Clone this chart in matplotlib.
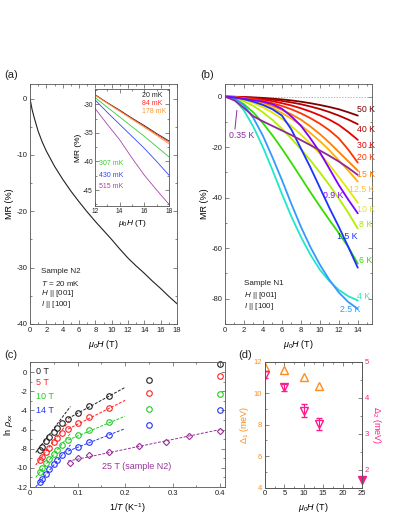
import numpy as np
import matplotlib
matplotlib.use('Agg')
import matplotlib.pyplot as plt
from matplotlib.ticker import MultipleLocator

plt.rcParams['font.family'] = ['Liberation Sans', 'DejaVu Sans']
plt.rcParams['mathtext.fontset'] = 'custom'
plt.rcParams['mathtext.rm'] = 'Liberation Sans'
plt.rcParams['mathtext.it'] = 'Liberation Sans:italic'
plt.rcParams['mathtext.bf'] = 'Liberation Sans:bold'
plt.rcParams['axes.linewidth'] = 0.6
plt.rcParams['axes.edgecolor'] = '#555555'
plt.rcParams['axes.unicode_minus'] = False

# ---------------- data: panel (a) ----------------
a_field = [0, 0.25, 0.5, 1, 1.5, 2, 3, 4, 5, 6, 7, 8, 9, 10, 11, 12, 13, 14, 15, 16, 17, 18]
a_mr = [0, -1.9, -3.3, -5.8, -7.7, -9.3, -12.0, -14.3, -16.4, -18.3, -20.1, -21.8, -23.4,
        -25.0, -26.7, -28.3, -29.7, -31.0, -32.4, -33.7, -35.1, -36.4]

# inset of (a)
inset_field = [12, 13, 14, 15, 16, 17, 18]
inset_labels = ['20 mK', '84 mK', '178 mK', '307 mK', '430 mK', '515 mK']
mr_20mK = [-28.3, -29.7, -31.0, -32.4, -33.7, -35.1, -36.4]
mr_84mK = [-28.3, -29.75, -31.1, -32.5, -33.85, -35.25, -36.6]
mr_178mK = [-28.4, -29.8, -31.2, -32.6, -34.0, -35.45, -36.9]
mr_307mK = [-28.8, -30.5, -32.2, -33.9, -35.6, -37.4, -39.2]
mr_430mK = [-29.2, -31.4, -33.5, -35.6, -37.7, -40.0, -42.4]
mr_515mK = [-30.7, -33.5, -36.2, -39.4, -42.4, -45.0, -47.5]

# ---------------- data: panel (b) ----------------
b_field = list(range(15))
b_labels = ['50 K', '40 K', '30 K', '20 K', '15 K', '12.5 K', '10 K', '8 K', '6 K',
            '4 K', '2.5 K', '1.5 K', '0.9 K', '0.35 K']
mr_50K = [0, -0.05, -0.15, -0.3, -0.5, -0.8, -1.1, -1.5, -2.0, -2.6, -3.3, -4.1, -5.0, -6.2, -7.5]
mr_40K = [0, -0.08, -0.25, -0.5, -0.8, -1.2, -1.7, -2.3, -3.0, -3.9, -4.9, -6.1, -7.5, -9.1, -10.9]
mr_30K = [0, -0.1, -0.35, -0.7, -1.2, -1.8, -2.6, -3.5, -4.6, -5.9, -7.4, -9.1, -11.2, -14.0, -17.1]
mr_20K = [0, -0.15, -0.5, -1.0, -1.7, -2.6, -3.7, -5.0, -6.6, -8.5, -10.7, -13.3, -16.5, -21.0, -26.1]
mr_15K = [0, -0.2, -0.7, -1.4, -2.4, -3.7, -5.2, -7.0, -9.1, -11.8, -14.8, -18.2, -21.9, -25.6, -29.3]
mr_12p5K = [0, -0.25, -0.85, -1.8, -3.0, -4.6, -6.5, -8.7, -11.3, -14.4, -17.6, -21.2, -25.2, -29.3, -33.6]
mr_10K = [0, -0.35, -1.2, -2.5, -4.2, -6.3, -8.8, -11.7, -15.0, -18.6, -22.6, -27.0, -31.8, -36.8, -42.0]
mr_8K = [0, -0.5, -1.8, -3.7, -6.2, -9.2, -12.7, -16.6, -20.8, -25.2, -30.0, -35.0, -40.3, -46.0, -52.2]
mr_6K = [0, -0.8, -3.0, -6.3, -10.5, -15.3, -20.6, -26.2, -32.0, -37.8, -43.4, -48.8, -54.0, -59.5, -66.1]
mr_4K = [0, -1.0, -5.5, -12.0, -20.0, -29.0, -38.5, -47.5, -55.5, -62.5, -68.5, -73.0, -76.5, -79.0, -80.7]
mr_2p5K = [0, -0.7, -3.5, -8.5, -15.5, -24.0, -33.0, -42.5, -51.5, -59.5, -66.5, -72.5, -77.5, -81.3, -84.0]
mr_1p5K = [0, -0.3, -1.0, -2.0, -3.3, -5.0, -7.5, -13.0, -20.5, -28.0, -36.0, -44.0, -51.5, -59.5, -67.7]
mr_0p9K = [0, -0.3, -0.8, -1.4, -2.0, -3.0, -4.8, -7.8, -11.5, -16.5, -22.0, -28.5, -35.0, -40.8, -46.2]
mr_0p35K = [0, -1.5, -4.5, -7.8, -9.8, -11.6, -13.4, -15.2, -17.2, -19.2, -21.3, -23.4, -25.7, -28.2, -31.0]

# ---------------- data: panel (c) ----------------
c_temps = [50, 40, 30, 25, 20, 17.5, 15, 12.5, 10, 8, 6, 4, 2.5]
c_fields = ['0 T', '5 T', '10 T', '14 T']
lnrho_0T = [-8.1, -7.8, -7.2, -6.8, -6.3, -5.85, -5.35, -4.85, -4.25, -3.55, -2.5, -0.8, 0.85]
lnrho_5T = [-9.2, -8.85, -8.3, -7.9, -7.35, -6.9, -6.4, -5.9, -5.35, -4.7, -3.75, -2.15, -0.45]
lnrho_10T = [-10.4, -10.05, -9.5, -9.05, -8.55, -8.1, -7.6, -7.1, -6.6, -6.05, -5.25, -3.9, -2.3]
lnrho_14T = [-11.5, -11.15, -10.6, -10.1, -9.6, -9.15, -8.7, -8.25, -7.8, -7.3, -6.6, -5.5, -4.0]
n2_temps = [11.8, 10, 8, 6, 4.35, 3.5, 3.0, 2.5]
lnrho_25T = [-9.45, -9.0, -8.65, -8.3, -7.7, -7.3, -6.65, -6.15]
# fit-line end points (1/T, ln rho)
steep_x = [0.012, 0.085]
steep_0T = [-8.4, -3.6]
steep_5T = [-9.7, -4.9]
steep_10T = [-11.0, -6.4]
steep_14T = [-12.0, -7.6]
shallow_x = [0.08, 0.2]
shallow_0T = [-4.85, -1.6]
shallow_5T = [-5.95, -2.95]
shallow_10T = [-7.1, -4.6]
shallow_14T = [-8.25, -5.9]
n2_fit_x = [0.08, 0.4]
n2_fit_y = [-9.3, -6.0]

# ---------------- data: panel (d) ----------------
d_field = [0, 5, 10, 14]
delta1 = [11.65, 11.5, 11.05, 10.45]
delta2 = [4.65, 4.3, 3.64, 3.27]
delta2_err = [0.1, 0.1, 0.18, 0.18]
d_field_n2 = [25]
delta2_n2 = [1.72]

# ---------------- figure ----------------
fig = plt.figure(figsize=(3.99, 5.16), dpi=100)
W, H = 399.0, 516.0

def add_ax(l, r, t, b):
    return fig.add_axes([l / W, 1 - b / H, (r - l) / W, (b - t) / H])

def style(ax, right=True):
    ax.tick_params(which='both', direction='in', top=True, right=right,
                   labelsize=5.5, colors='#555555', labelcolor='#222222', width=0.5, pad=2)
    ax.tick_params(which='major', length=2.8)
    ax.tick_params(which='minor', length=1.5)

LFS = 6.5

# ----- (a) -----
axa = add_ax(30, 177, 84, 324)
axa.plot(a_field, a_mr, color='#222222', lw=0.8)
axa.set_xlim(0, 18)
axa.set_ylim(-40, 2.6)
axa.xaxis.set_major_locator(MultipleLocator(2))
axa.xaxis.set_minor_locator(MultipleLocator(1))
axa.yaxis.set_major_locator(MultipleLocator(10))
axa.yaxis.set_minor_locator(MultipleLocator(5))
style(axa)
axa.set_xlabel(r'$\mu_0H$ (T)', fontsize=LFS, labelpad=3)
axa.set_ylabel('MR (%)', fontsize=LFS, labelpad=2)
for txt, yy in zip(['Sample N2', r'$T$ = 20 mK', r'$H$ || [001]', r'$I$ || [100]'],
                   [-30.7, -32.8, -34.6, -36.5]):
    axa.text(1.3, yy, txt, fontsize=5.8, va='center', color='#222222')

# inset
axi = add_ax(95, 169, 89, 206)
inset_series = [mr_20mK, mr_84mK, mr_178mK, mr_307mK, mr_430mK, mr_515mK]
inset_colors = ['#222222', '#ff2a2a', '#ff9933', '#33cc33', '#3344ff', '#aa44aa']
for ys, c in zip(inset_series, inset_colors):
    axi.plot(inset_field, ys, color=c, lw=0.6)
axi.set_xlim(12, 18)
axi.set_ylim(-47.8, -27.3)
axi.xaxis.set_major_locator(MultipleLocator(2))
axi.xaxis.set_minor_locator(MultipleLocator(1))
axi.yaxis.set_major_locator(MultipleLocator(5))
axi.yaxis.set_minor_locator(MultipleLocator(2.5))
style(axi)
axi.tick_params(labelsize=4.8, pad=1.5)
axi.set_xlabel(r'$\mu_0H$ (T)', fontsize=6, labelpad=2)
axi.set_ylabel('MR (%)', fontsize=6, labelpad=1)
for lab, c, (xx, yy) in zip(inset_labels, inset_colors,
                            [(15.85, -28.5), (15.85, -29.85), (15.85, -31.2),
                             (12.35, -40.4), (12.35, -42.4), (12.35, -44.3)]):
    axi.text(xx, yy, lab, color=c, fontsize=5, va='center')

# ----- (b) -----
axb = add_ax(225, 372, 84, 324)
b_series = [mr_50K, mr_40K, mr_30K, mr_20K, mr_15K, mr_12p5K, mr_10K, mr_8K, mr_6K,
            mr_4K, mr_2p5K, mr_1p5K, mr_0p9K, mr_0p35K]
b_colors = ['#800000', '#b30000', '#e60000', '#ff3300', '#ff8000', '#ffb300', '#e6e600',
            '#b3ee00', '#33dd00', '#22e6c8', '#3399ff', '#1a33ff', '#8000ff', '#8c2a99']
b_label_colors = ['#800000', '#b30000', '#e60000', '#ff3300', '#ff8000', '#ffbf40', '#dede40',
                  '#a8e600', '#33dd00', '#33e6b0', '#3399ff', '#1a33ff', '#8000ff', '#8c2a99']
b_label_pos = [(13.9, -4.9), (13.9, -13.1), (13.9, -19.5), (13.9, -24.2), (13.9, -31.0),
               (13.1, -36.7), (13.9, -44.5), (14.1, -50.5), (14.1, -65.0), (13.9, -79.0),
               (12.1, -84.3), (11.8, -55.5), (10.3, -39.3), (0.4, -15.5)]
axb.axhline(0, color='#999999', lw=0.5, ls=(0, (2, 2)))
for ys, c in zip(b_series, b_colors):
    axb.plot(b_field, ys, color=c, lw=1.3, solid_capstyle='round')
for lab, c, (xx, yy) in zip(b_labels, b_label_colors, b_label_pos):
    axb.text(xx, yy, lab, color=c, fontsize=6.3, va='center')
axb.plot([1.25, 1.05], [-5.5, -12.8], color='#8c2a99', lw=0.7)
axb.set_xlim(0, 15.5)
axb.set_ylim(-90, 5)
axb.xaxis.set_major_locator(MultipleLocator(2))
axb.xaxis.set_minor_locator(MultipleLocator(1))
axb.yaxis.set_major_locator(MultipleLocator(20))
axb.yaxis.set_minor_locator(MultipleLocator(10))
style(axb)
axb.set_xlabel(r'$\mu_0H$ (T)', fontsize=LFS, labelpad=3)
axb.set_ylabel('MR (%)', fontsize=LFS, labelpad=2)
for txt, yy in zip(['Sample N1', r'$H$ || [001]', r'$I$ || [100]'], [-74.0, -78.7, -82.9]):
    axb.text(2.0, yy, txt, fontsize=5.8, va='center', color='#222222')

# ----- (c) -----
axc = add_ax(30, 225, 362, 487)
c_series = [lnrho_0T, lnrho_5T, lnrho_10T, lnrho_14T]
c_colors = ['#222222', '#ff2222', '#22cc22', '#2233ff']
steep_series = [steep_0T, steep_5T, steep_10T, steep_14T]
shallow_series = [shallow_0T, shallow_5T, shallow_10T, shallow_14T]
inv_t = [1.0 / t for t in c_temps]
for ys, st, sh, c in zip(c_series, steep_series, shallow_series, c_colors):
    axc.plot(steep_x, st, color=c, lw=0.7, ls=(0, (3, 1.5)))
    axc.plot(shallow_x, sh, color=c, lw=0.7, ls=(0, (3, 1.5)))
    axc.plot(inv_t, ys, ls='none', marker='o', ms=4, mfc='none', mec=c, mew=0.8, clip_on=False)
inv_t_n2 = [1.0 / t for t in n2_temps]
axc.plot(n2_fit_x, n2_fit_y, color='#993399', lw=0.7, ls=(0, (3, 1.5)))
axc.plot(inv_t_n2, lnrho_25T, ls='none', marker='D', ms=3.2, mfc='none', mec='#993399', mew=0.8, clip_on=False)
for lab, c, yy in zip(c_fields, c_colors, [0.05, -1.1, -2.6, -4.0]):
    axc.text(0.0125, yy, lab, color=c, fontsize=6.5, va='center')
axc.text(0.152, -9.9, '25 T (sample N2)', color='#993399', fontsize=6.5, va='center')
axc.set_xlim(0, 0.41)
axc.set_ylim(-12, 1.05)
axc.xaxis.set_major_locator(MultipleLocator(0.1))
axc.xaxis.set_minor_locator(MultipleLocator(0.05))
axc.yaxis.set_major_locator(MultipleLocator(2))
axc.yaxis.set_minor_locator(MultipleLocator(1))
style(axc)
axc.set_xticks([0, 0.1, 0.2, 0.3, 0.4])
axc.set_xticklabels(['0', '0.1', '0.2', '0.3', '0.4'])
axc.set_xlabel(r'1/$T$ (K$^{-1}$)', fontsize=LFS, labelpad=3)
axc.set_ylabel(r'ln $\rho_{xx}$', fontsize=LFS, labelpad=1)

# ----- (d) -----
axd = add_ax(265, 362, 362, 487.5)
axd2 = axd.twinx()
orange = '#ff8c1a'
pink = '#ff1a8c'
axd.plot(d_field, delta1, ls='none', marker='^', ms=5.5, mfc='none', mec=orange, mew=1.0)
axd2.errorbar(d_field, delta2, yerr=delta2_err, ls='none', marker='v', ms=5.5, mfc='none',
              mec=pink, mew=1.0, ecolor=pink, elinewidth=0.8, capsize=2)
axd2.plot(d_field_n2, delta2_n2, ls='none', marker='v', ms=5.5, color=pink, clip_on=False)
axd.set_xlim(0, 25)
axd.set_ylim(4, 12)
axd2.set_ylim(1.5, 5)
axd.xaxis.set_major_locator(MultipleLocator(5))
axd.xaxis.set_minor_locator(MultipleLocator(2.5))
axd.yaxis.set_major_locator(MultipleLocator(2))
axd.yaxis.set_minor_locator(MultipleLocator(1))
axd2.yaxis.set_major_locator(MultipleLocator(1))
axd2.yaxis.set_minor_locator(MultipleLocator(0.5))
axd.tick_params(which='both', direction='in', top=True, right=False, labelsize=5.5,
                colors='#555555', width=0.5, pad=2)
axd.tick_params(axis='x', labelcolor='#222222')
axd.tick_params(axis='y', labelcolor=orange)
axd.tick_params(which='major', length=2.8)
axd.tick_params(which='minor', length=1.5)
axd2.tick_params(which='both', direction='in', labelsize=5.5, colors='#555555',
                 labelcolor=pink, width=0.5, pad=2)
axd2.tick_params(which='major', length=2.8)
axd2.tick_params(which='minor', length=1.5)
axd.set_xlabel(r'$\mu_0H$ (T)', fontsize=LFS, labelpad=3)
axd.set_ylabel(r'$\Delta_1$ (meV)', fontsize=LFS, color=orange, labelpad=2)
axd2.set_ylabel(r'$\Delta_2$ (meV)', fontsize=LFS, color=pink, rotation=270, labelpad=10)

# panel labels
for lab, (xx, yy) in zip(['(a)', '(b)', '(c)', '(d)'],
                         [(4, 75), (200, 75), (4, 355), (238, 355)]):
    fig.text(xx / W, 1 - yy / H, lab, fontsize=8, va='center', color='#222222')

fig.savefig('out.png', dpi=100)
